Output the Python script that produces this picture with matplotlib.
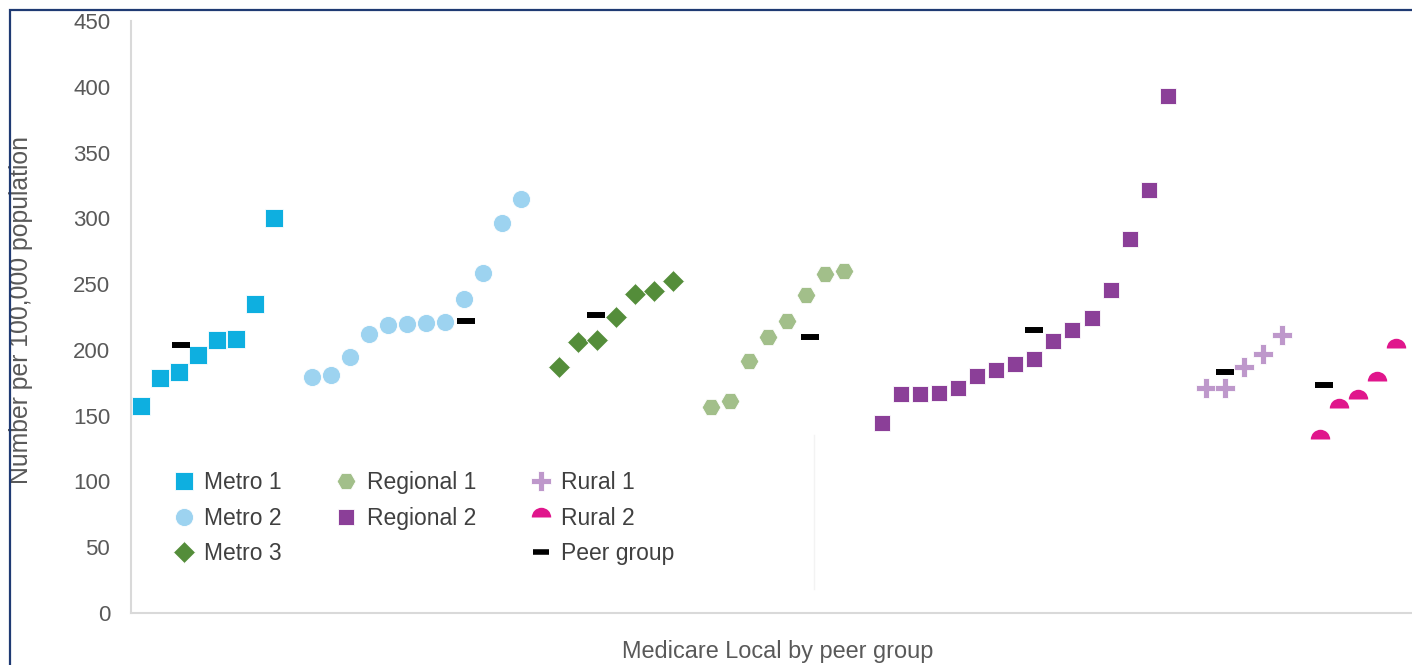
import numpy as np
import matplotlib
matplotlib.use("Agg")
import matplotlib.pyplot as plt
from matplotlib.lines import Line2D
from matplotlib.patches import Rectangle

plt.rcParams["font.family"] = ["Liberation Sans", "DejaVu Sans"]

# values, one list per peer group (sorted ascending)
groups = ["Metro 1", "Metro 2", "Metro 3", "Regional 1", "Regional 2", "Rural 1", "Rural 2"]
metro1 = [157.5, 178.6, 182.9, 196.0, 207.4, 208.0, 234.6, 300.2]
metro2 = [179.6, 180.9, 194.3, 212.0, 218.8, 219.4, 220.1, 221.4, 238.6, 258.1, 296.4, 314.8]
metro3 = [186.7, 205.9, 207.4, 224.7, 242.6, 244.4, 252.3]
regional1 = [156.8, 161.1, 191.5, 210.0, 222.1, 241.4, 257.4, 260.1]
regional2 = [144.4, 166.2, 166.7, 167.2, 171.0, 179.9, 184.7, 189.5, 193.0,
             206.9, 214.8, 224.2, 245.7, 284.0, 321.7, 393.1]
rural1 = [170.7, 170.7, 186.9, 196.8, 211.0]
rural2 = [132.0, 156.0, 162.6, 176.5, 201.1]
peer_values = [203.4, 221.6, 226.7, 209.7, 215.0, 183.1, 173.0]
peer_slot = [2.15, 8.1, 1.95, 5.2, 8.0, 1.0, 0.2]  # where the dash sits within its group

series = [metro1, metro2, metro3, regional1, regional2, rural1, rural2]
colors = ["#0EAFE0", "#9DD3F0", "#548D3A", "#A2BF8A", "#8B3F98", "#BE98CB", "#E0168C"]
markers = ["s", "o", "D", "H", "s", "P", "o"]
sizes = [13, 13, 11.5, 13.5, 11.5, 14, 14]

fig = plt.figure(figsize=(14.12, 6.65), dpi=100)
ax = fig.add_axes([131 / 1412, 52 / 665, 1 - 131 / 1412, 592 / 665])

gray = "#595959"
start = 0
handles = []
for name, vals, c, m, s, pv, ps in zip(groups, series, colors, markers, sizes, peer_values, peer_slot):
    x = start + np.arange(len(vals))
    kw = dict(ls="none", marker=m, ms=s, color=c, mec="white", mew=0.6)
    if name == "Rural 2":
        kw.update(fillstyle="top", markerfacecoloralt="none", mec=c, mew=0)
    h, = ax.plot(x, vals, label=name, **kw)
    handles.append(h)
    ax.plot(start + ps, pv, ls="none", marker="_", ms=13.5, mew=4.3, color="black")
    start += len(vals) + 1

peer_h = Line2D([], [], ls="none", marker="_", ms=11.5, mew=4, color="black", label="Peer group")
blank = Line2D([], [], ls="none", label=" ")

# faint stray line in the original
ax.plot([35.4, 35.4], [18, 135], color="#f3f3f3", lw=1)

ax.set_xlim(-0.5, 66.85)
ax.set_ylim(0, 450)
ax.set_yticks(np.arange(0, 451, 50))
ax.set_xticks([])
ax.tick_params(axis="y", length=0, pad=15, labelsize=16, labelcolor=gray)
for side in ["top", "right"]:
    ax.spines[side].set_visible(False)
for side in ["left", "bottom"]:
    ax.spines[side].set_color("#d9d9d9")
    ax.spines[side].set_linewidth(1.5)

ax.set_ylabel("Number per 100,000 population", fontsize=17.8, color=gray)
ax.yaxis.set_label_coords(-0.0765, 0.511)
ax.set_xlabel("Medicare Local by peer group", fontsize=16.9, color=gray)
ax.xaxis.set_label_coords(0.505, -0.045)

leg_handles = handles[:5] + [blank] + handles[5:] + [peer_h]
leg = ax.legend(handles=leg_handles, ncol=3, loc="upper left", bbox_to_anchor=(0.0245, 0.2585),
                frameon=False, fontsize=16.5, handlelength=0.87, handletextpad=0.44,
                columnspacing=2.4, labelspacing=0.53, borderpad=0, markerscale=1.0)
for t in leg.get_texts():
    t.set_color("#404040")

fig.patches.append(Rectangle((9.5 / 1412, -0.1), 1.2, (655 + 0.1 * 665) / 665,
                             transform=fig.transFigure, fill=False, ec="#1F3A73", lw=1.6))

fig.savefig("out.png", dpi=100)
